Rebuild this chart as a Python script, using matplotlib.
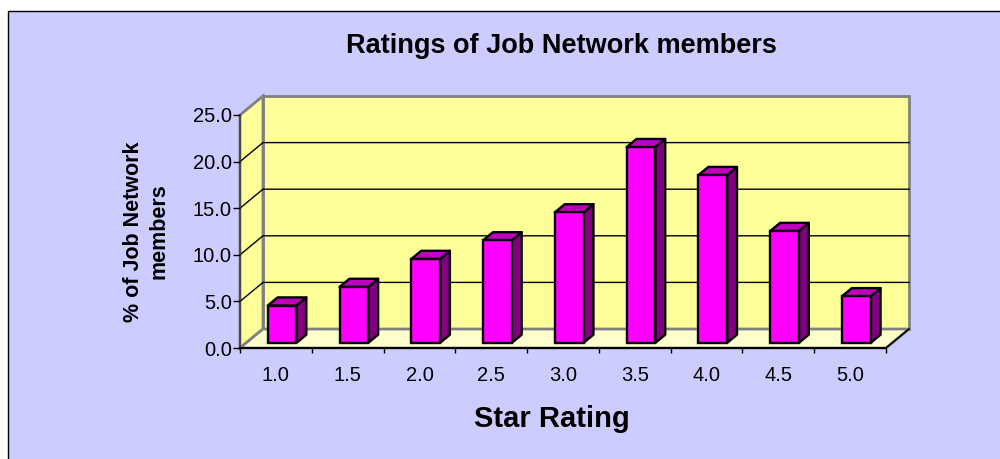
import matplotlib
matplotlib.use("Agg")
import matplotlib.pyplot as plt
from matplotlib.patches import Rectangle, Polygon
from matplotlib.transforms import Affine2D, IdentityTransform
import numpy as np

# ---- data ----
categories = ["1.0", "1.5", "2.0", "2.5", "3.0", "3.5", "4.0", "4.5", "5.0"]
values = [4, 6, 9, 11, 14, 21, 18, 12, 5]
y_ticks = [0, 5, 10, 15, 20, 25]
title = "Ratings of Job Network members"
x_label = "Star Rating"
y_label = "% of Job Network\nmembers"

plt.rcParams['font.family'] = ['Liberation Sans', 'DejaVu Sans']

W, H = 1000, 459
fig = plt.figure(figsize=(W / 100, H / 100), dpi=100)
fig.patch.set_facecolor("white")

# chart area background
bg = Rectangle((8 / W, -0.05), 1.1, (H - 11) / H + 0.05, transform=fig.transFigure,
               facecolor="#CCCCFF", edgecolor="black", lw=1.0, zorder=-10)
fig.patches.append(bg)

# front plane of plot area (pixels)
L, R, B, T = 240, 886, 348, 115
ax = fig.add_axes([L / W, (H - B) / H, (R - L) / W, (B - T) / H])
ax.set_zorder(1)
ax.set_facecolor("none")
n = len(categories)
ax.set_xlim(0, n)
ax.set_ylim(0, y_ticks[-1])

DEPTH = np.array([23.0, 19.0])  # pixel offset of back wall


def P(x, y, d):
    p = ax.transData.transform((x, y))
    return p + d * DEPTH


def poly(pts, **kw):
    pg = Polygon(np.array(pts), closed=True, transform=IdentityTransform(),
                 clip_on=False, **kw)
    ax.add_artist(pg)
    return pg


ymax = y_ticks[-1]
wall = "#FFFF99"
floor = "#FFFFCC"
grey = "#808080"

# walls
poly([P(0, 0, 1), P(n, 0, 1), P(n, ymax, 1), P(0, ymax, 1)], facecolor=wall,
     edgecolor=grey, lw=2.0, zorder=1)
poly([P(0, 0, 0), P(0, 0, 1), P(0, ymax, 1), P(0, ymax, 0)], facecolor=wall,
     edgecolor=grey, lw=2.0, zorder=1)
poly([P(0, 0, 0), P(n, 0, 0), P(n, 0, 1), P(0, 0, 1)], facecolor=floor,
     edgecolor=grey, lw=2.0, zorder=1.2)

# gridlines
for yv in y_ticks[1:-1]:
    a, b, c = P(0, yv, 0), P(0, yv, 1), P(n, yv, 1)
    ax.add_line(plt.Line2D([a[0], b[0], c[0]], [a[1], b[1], c[1]], color="black",
                           lw=1.0, transform=IdentityTransform(), clip_on=False, zorder=1.1))

# floor front and right edges
a, b, c = P(0, 0, 0), P(n, 0, 0), P(n, 0, 1)
ax.add_line(plt.Line2D([a[0], b[0], c[0]], [a[1], b[1], c[1]], color="black", lw=1.2,
                       transform=IdentityTransform(), clip_on=False, zorder=1.3))

# bars
centers = np.arange(n) + 0.5
bw = 0.4
df, db = 0.27, 0.70
front_shift = ax.transData + Affine2D().translate(*(df * DEPTH))
bars = ax.bar(centers, values, width=bw, color="#FF00FF", edgecolor="black", lw=1.7,
              zorder=3)
for rect, cx, v in zip(bars, centers, values):
    rect.set_transform(front_shift)
    rect.set_clip_on(False)
    poly([P(cx + bw / 2, 0, df), P(cx + bw / 2, 0, db), P(cx + bw / 2, v, db),
          P(cx + bw / 2, v, df)], facecolor="#800080", edgecolor="black", lw=1.7,
         zorder=2.9, joinstyle="round")
    poly([P(cx - bw / 2, v, df), P(cx + bw / 2, v, df), P(cx + bw / 2, v, db),
          P(cx - bw / 2, v, db)], facecolor="#C000C0", edgecolor="black", lw=1.7,
         zorder=2.9, joinstyle="round")

# axes / ticks
for s in ["top", "right"]:
    ax.spines[s].set_visible(False)
ax.spines["left"].set_color("#404040")
ax.spines["left"].set_linewidth(1.2)
ax.spines["bottom"].set_color("black")
ax.spines["bottom"].set_linewidth(1.2)
ax.spines["left"].set_zorder(1.4)
ax.spines["bottom"].set_zorder(1.4)

ax.set_yticks(y_ticks)
ax.set_yticklabels([f"{t:.1f}" for t in y_ticks])
ax.tick_params(axis="y", direction="out", length=5, width=1, pad=1, labelsize=14.5,
               color="black")
ax.set_xticks(np.arange(n + 1))
ax.set_xticklabels([""] * (n + 1))
ax.tick_params(axis="x", which="major", direction="out", length=3.6, width=1,
               color="black")
ax.set_xticks(centers, minor=True)
ax.set_xticklabels(categories, minor=True)
ax.tick_params(axis="x", which="minor", length=0, pad=13, labelsize=14.5)

# texts
fig.text(561 / W, 1 - 53 / H, title, ha="center", va="baseline", fontsize=19.5,
         fontweight="bold")
fig.text(552 / W, 1 - 427 / H, x_label, ha="center", va="baseline", fontsize=21,
         fontweight="bold")
fig.text(146 / W, 1 - 231.5 / H, y_label, ha="center", va="center", rotation=90,
         fontsize=15.5, fontweight="bold", linespacing=1.25, multialignment="center")

fig.savefig("out.png", dpi=100)
